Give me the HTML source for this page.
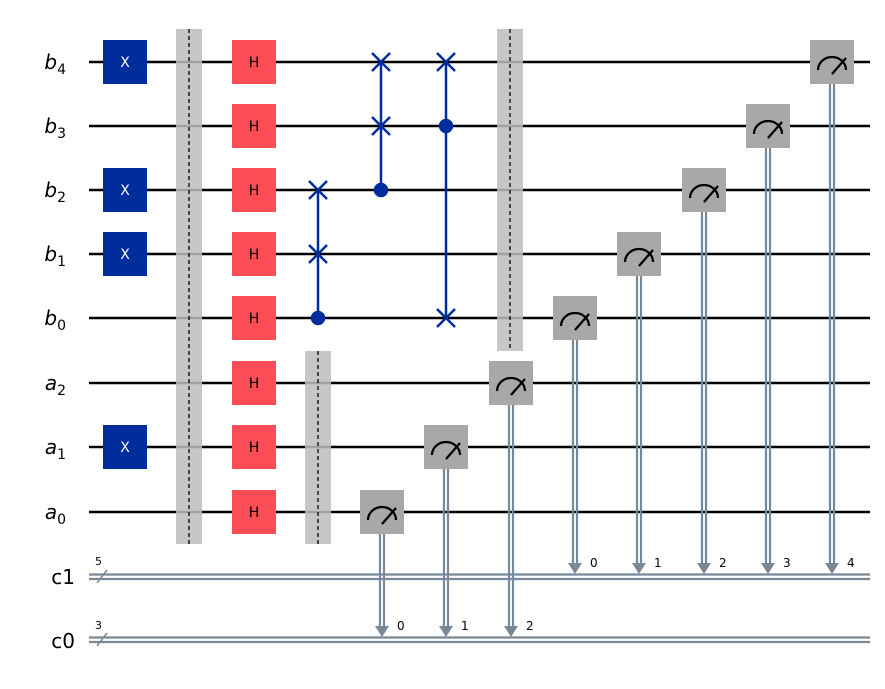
<!DOCTYPE html>
<html><head><meta charset="utf-8"><style>html,body{margin:0;padding:0;background:#fff}svg{display:block}</style></head>
<body>
<svg width="885" height="689" viewBox="0 0 885 689" xmlns="http://www.w3.org/2000/svg" font-family="DejaVu Sans, Liberation Sans, sans-serif">
<rect width="885" height="689" fill="#fff"/>
<!-- qubit wires -->
<g stroke="#000" stroke-width="2.5">
<line x1="89" y1="62" x2="870" y2="62"/>
<line x1="89" y1="126" x2="870" y2="126"/>
<line x1="89" y1="190" x2="870" y2="190"/>
<line x1="89" y1="254" x2="870" y2="254"/>
<line x1="89" y1="318" x2="870" y2="318"/>
<line x1="89" y1="383" x2="870" y2="383"/>
<line x1="89" y1="447" x2="870" y2="447"/>
<line x1="89" y1="512" x2="870" y2="512"/>
</g>
<!-- classical wires -->
<g stroke="#778899" stroke-width="2.2">
<line x1="89" y1="574.5" x2="870" y2="574.5"/>
<line x1="89" y1="579" x2="870" y2="579"/>
<line x1="89" y1="637.5" x2="870" y2="637.5"/>
<line x1="89" y1="642" x2="870" y2="642"/>
<line x1="97" y1="583" x2="107" y2="570" stroke-width="1.5"/>
<line x1="97" y1="646" x2="107" y2="633" stroke-width="1.5"/>
</g>
<g font-size="11" fill="#000">
<text x="95" y="565">5</text>
<text x="95" y="629">3</text>
</g>
<!-- labels -->
<g font-size="20" fill="#000" text-anchor="end">
<text x="66" y="69" font-style="italic">b<tspan font-size="14" dy="5" font-style="normal">4</tspan></text>
<text x="66" y="133" font-style="italic">b<tspan font-size="14" dy="5" font-style="normal">3</tspan></text>
<text x="66" y="197" font-style="italic">b<tspan font-size="14" dy="5" font-style="normal">2</tspan></text>
<text x="66" y="261" font-style="italic">b<tspan font-size="14" dy="5" font-style="normal">1</tspan></text>
<text x="66" y="325" font-style="italic">b<tspan font-size="14" dy="5" font-style="normal">0</tspan></text>
<text x="66" y="390" font-style="italic">a<tspan font-size="14" dy="5" font-style="normal">2</tspan></text>
<text x="66" y="454" font-style="italic">a<tspan font-size="14" dy="5" font-style="normal">1</tspan></text>
<text x="66" y="519" font-style="italic">a<tspan font-size="14" dy="5" font-style="normal">0</tspan></text>
<text x="75" y="584">c1</text>
<text x="75" y="648">c0</text>
</g>
<!-- barriers -->
<g fill="#bdbdbd" fill-opacity="0.85">
<rect x="176" y="29" width="26" height="515"/>
<rect x="305" y="351" width="26" height="193"/>
<rect x="497" y="29" width="26" height="322"/>
</g>
<g stroke="#000" stroke-width="1.3" stroke-dasharray="4,3">
<line x1="189" y1="29" x2="189" y2="544"/>
<line x1="318" y1="351" x2="318" y2="544"/>
<line x1="510" y1="29" x2="510" y2="351"/>
</g>
<!-- X gates -->
<g fill="#002d9c">
<rect x="103" y="40" width="44" height="44"/>
<rect x="103" y="168" width="44" height="44"/>
<rect x="103" y="232" width="44" height="44"/>
<rect x="103" y="425" width="44" height="44"/>
</g>
<g fill="#fff" font-size="14" text-anchor="middle">
<text x="125" y="67">X</text><text x="125" y="195">X</text><text x="125" y="259">X</text><text x="125" y="452">X</text>
</g>
<!-- H gates -->
<g fill="#fa4d56">
<rect x="232" y="40" width="44" height="44"/>
<rect x="232" y="104" width="44" height="44"/>
<rect x="232" y="168" width="44" height="44"/>
<rect x="232" y="232" width="44" height="44"/>
<rect x="232" y="296" width="44" height="44"/>
<rect x="232" y="361" width="44" height="44"/>
<rect x="232" y="425" width="44" height="44"/>
<rect x="232" y="490" width="44" height="44"/>
</g>
<g fill="#000" font-size="14" text-anchor="middle">
<text x="254" y="67">H</text><text x="254" y="131">H</text><text x="254" y="195">H</text><text x="254" y="259">H</text><text x="254" y="323">H</text><text x="254" y="388">H</text><text x="254" y="452">H</text><text x="254" y="517">H</text>
</g>
<!-- swaps -->
<g stroke="#002d9c" stroke-width="2.5" fill="#002d9c">
<line x1="318" y1="190" x2="318" y2="318"/>
<circle cx="318" cy="318" r="6"/>
<path d="M309 181l18 18M327 181l-18 18M309 245l18 18M327 245l-18 18"/>
<line x1="381" y1="62" x2="381" y2="190"/>
<circle cx="381" cy="190" r="6"/>
<path d="M372 53l18 18M390 53l-18 18M372 117l18 18M390 117l-18 18"/>
<line x1="446" y1="62" x2="446" y2="318"/>
<circle cx="446" cy="126" r="6"/>
<path d="M437 53l18 18M455 53l-18 18M437 309l18 18M455 309l-18 18"/>
</g>
<!-- measurement classical lines -->
<g stroke="#778899" stroke-width="2.2">
<path d="M380 530V628M384 530V628"/>
<path d="M444 465V628M448 465V628"/>
<path d="M509 401V628M513 401V628"/>
<path d="M573 336V565M577 336V565"/>
<path d="M637 272V565M641 272V565"/>
<path d="M702 208V565M706 208V565"/>
<path d="M766 144V565M770 144V565"/>
<path d="M830 80V565M834 80V565"/>
</g>
<g fill="#778899">
<path d="M375 626h14l-7 11z"/>
<path d="M439 626h14l-7 11z"/>
<path d="M504 626h14l-7 11z"/>
<path d="M568 563h14l-7 11z"/>
<path d="M632 563h14l-7 11z"/>
<path d="M697 563h14l-7 11z"/>
<path d="M761 563h14l-7 11z"/>
<path d="M825 563h14l-7 11z"/>
</g>
<g font-size="12" fill="#000">
<text x="397" y="630">0</text><text x="461" y="630">1</text><text x="526" y="630">2</text>
<text x="590" y="567">0</text><text x="654" y="567">1</text><text x="719" y="567">2</text><text x="783" y="567">3</text><text x="847" y="567">4</text>
</g>
<!-- measure boxes -->
<g fill="#a8a8a8">
<rect x="360" y="490" width="44" height="44"/>
<rect x="424" y="425" width="44" height="44"/>
<rect x="489" y="361" width="44" height="44"/>
<rect x="553" y="296" width="44" height="44"/>
<rect x="617" y="232" width="44" height="44"/>
<rect x="682" y="168" width="44" height="44"/>
<rect x="746" y="104" width="44" height="44"/>
<rect x="810" y="40" width="44" height="44"/>
</g>
<g stroke="#000" stroke-width="2.3" fill="none">
<path d="M368 520a14 13 0 0 1 28 0M382 524l14-16"/>
<path d="M432 455a14 13 0 0 1 28 0M446 459l14-16"/>
<path d="M497 391a14 13 0 0 1 28 0M511 395l14-16"/>
<path d="M561 326a14 13 0 0 1 28 0M575 330l14-16"/>
<path d="M625 262a14 13 0 0 1 28 0M639 266l14-16"/>
<path d="M690 198a14 13 0 0 1 28 0M704 202l14-16"/>
<path d="M754 134a14 13 0 0 1 28 0M768 138l14-16"/>
<path d="M818 70a14 13 0 0 1 28 0M832 74l14-16"/>
</g>
</svg>
</body></html>
